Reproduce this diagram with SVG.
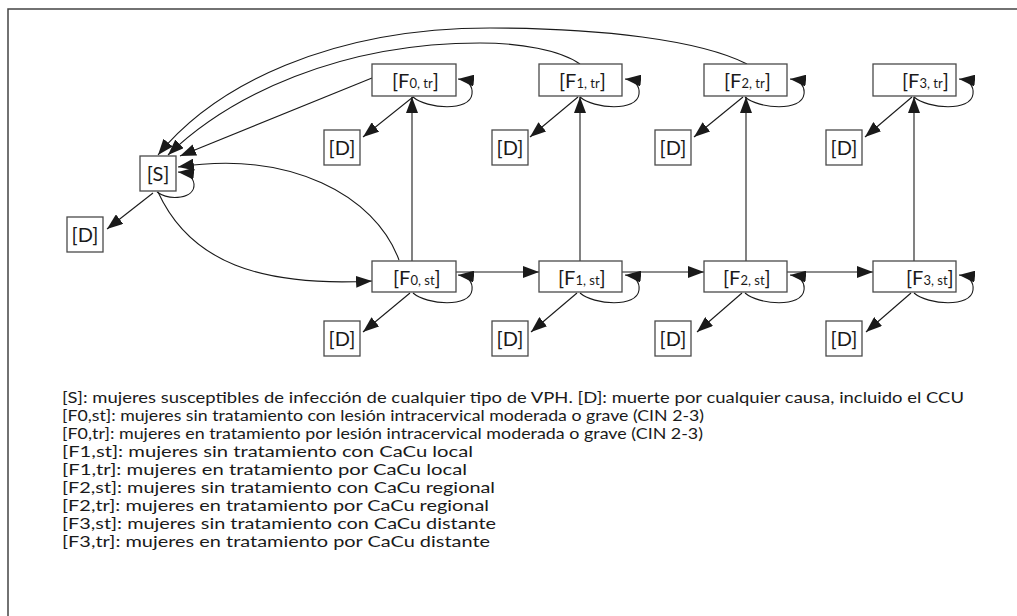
<svg xmlns="http://www.w3.org/2000/svg" width="1017" height="616" viewBox="0 0 1017 616">
  <style>
    .box { fill: #ffffff; stroke: #4a4a4a; stroke-width: 1.3; }
    .lbl { font-family: "Lato", "Liberation Sans", sans-serif; fill: #1a1a1a; }
    .big { font-size: 20px; }
    .sm { font-size: 13px; }
    .edge { fill: none; stroke: #1a1a1a; stroke-width: 1.1; marker-end: url(#ah); }
    .legend { font-family: "Lato", "Liberation Sans", sans-serif; font-size: 16px; fill: #1a1a1a; }
    .frame { stroke: #444; stroke-width: 1.5; fill: none; }
  </style>
  <defs>
    <marker id="ah" viewBox="0 0 16 12" refX="16" refY="6" markerWidth="16" markerHeight="12" markerUnits="userSpaceOnUse" orient="auto">
      <path d="M0,0 L16,6 L0,12 z" fill="#1a1a1a"/>
    </marker>
  </defs>
  <rect width="1017" height="616" fill="#ffffff"/>
  <path class="frame" d="M8,616 L8,9 L1017,9"/>

  <!-- connectors -->
  <g id="connectors">
    <!-- from S -->
    <path class="edge" d="M153,193 L107,229"/>
    <path class="edge" d="M157,192 C170,201 195,199 194,184 C193,177 188,173 178,172"/>
    <path class="edge" d="M158,192 C190,262 260,287 372,281"/>
    <!-- back to S -->
    <path class="edge" d="M399,260 C375,195 290,150 178,167"/>
    <path class="edge" d="M372,78 L180,156"/>
    <path class="edge" d="M580,64 C560,50 520,43 480,43 C340,43 230,95 168,155"/>
    <path class="edge" d="M747,64 C700,40 600,28 490,28 C330,28 215,85 158,155"/>
    <!-- st to tr -->
    <path class="edge" d="M412,261 L412,97"/>
    <path class="edge" d="M580,261 L580,97"/>
    <path class="edge" d="M746,261 L746,97"/>
    <path class="edge" d="M914,261 L914,97"/>
    <!-- st progression -->
    <path class="edge" d="M456,272 L539,272"/>
    <path class="edge" d="M622,272 L704,272"/>
    <path class="edge" d="M787,272 L873,272"/>
    <!-- deaths, tr row -->
    <path class="edge" d="M413,97 L363,137"/>
    <path class="edge" d="M578,97 L530,137"/>
    <path class="edge" d="M743,97 L694,137"/>
    <path class="edge" d="M912,97 L865,137"/>
    <!-- deaths, st row -->
    <path class="edge" d="M410,293 L363,332"/>
    <path class="edge" d="M577,293 L531,332"/>
    <path class="edge" d="M742,293 L697,332"/>
    <path class="edge" d="M911,293 L866,332"/>
    <!-- self loops, tr row -->
    <path class="edge" d="M413,97 C427,109 470,112 472,94 C473,86 468,80 458,79"/>
    <path class="edge" d="M580,97 C594,109 637,112 639,94 C640,86 635,80 625,79"/>
    <path class="edge" d="M745,97 C759,109 802,112 804,94 C805,86 800,80 790,79"/>
    <path class="edge" d="M914,97 C928,109 971,112 973,94 C974,86 969,80 959,79"/>
    <!-- self loops, st row -->
    <path class="edge" d="M413,293 C427,305 470,308 472,290 C473,282 468,276 458,275"/>
    <path class="edge" d="M580,293 C594,305 637,308 639,290 C640,282 635,276 625,275"/>
    <path class="edge" d="M745,293 C759,305 802,308 804,290 C805,282 800,276 790,275"/>
    <path class="edge" d="M914,293 C928,305 971,308 973,290 C974,282 969,276 959,275"/>
  </g>

  <!-- states -->
  <g id="S">
    <rect class="box" x="140" y="156" width="36" height="35"/>
    <text class="lbl big" x="158" y="181" text-anchor="middle">[S]</text>
  </g>
  <g id="D-S">
    <rect class="box" x="67" y="217" width="36" height="35"/>
    <text class="lbl big" x="85" y="242" text-anchor="middle">[D]</text>
  </g>

  <g id="F0-tr">
    <rect class="box" x="372" y="64" width="84" height="32"/>
    <text class="lbl" x="392" y="88"><tspan class="big">[F</tspan><tspan class="sm">0, tr</tspan><tspan class="big">]</tspan></text>
  </g>
  <g id="F1-tr">
    <rect class="box" x="539" y="64" width="83" height="32"/>
    <text class="lbl" x="559" y="88"><tspan class="big">[F</tspan><tspan class="sm">1, tr</tspan><tspan class="big">]</tspan></text>
  </g>
  <g id="F2-tr">
    <rect class="box" x="704" y="64" width="83" height="32"/>
    <text class="lbl" x="724" y="88"><tspan class="big">[F</tspan><tspan class="sm">2, tr</tspan><tspan class="big">]</tspan></text>
  </g>
  <g id="F3-tr">
    <rect class="box" x="873" y="64" width="83" height="32"/>
    <text class="lbl" x="902" y="88"><tspan class="big">[F</tspan><tspan class="sm">3, tr</tspan><tspan class="big">]</tspan></text>
  </g>

  <g id="F0-st">
    <rect class="box" x="372" y="261" width="84" height="31"/>
    <text class="lbl" x="393" y="285"><tspan class="big">[F</tspan><tspan class="sm">0, st</tspan><tspan class="big">]</tspan></text>
  </g>
  <g id="F1-st">
    <rect class="box" x="539" y="261" width="83" height="31"/>
    <text class="lbl" x="558" y="285"><tspan class="big">[F</tspan><tspan class="sm">1, st</tspan><tspan class="big">]</tspan></text>
  </g>
  <g id="F2-st">
    <rect class="box" x="704" y="261" width="83" height="31"/>
    <text class="lbl" x="723" y="285"><tspan class="big">[F</tspan><tspan class="sm">2, st</tspan><tspan class="big">]</tspan></text>
  </g>
  <g id="F3-st">
    <rect class="box" x="873" y="261" width="83" height="31"/>
    <text class="lbl" x="906" y="285"><tspan class="big">[F</tspan><tspan class="sm">3, st</tspan><tspan class="big">]</tspan></text>
  </g>

  <g id="D-tr0"><rect class="box" x="324" y="130" width="36" height="35"/><text class="lbl big" x="342" y="155" text-anchor="middle">[D]</text></g>
  <g id="D-tr1"><rect class="box" x="492" y="130" width="36" height="35"/><text class="lbl big" x="510" y="155" text-anchor="middle">[D]</text></g>
  <g id="D-tr2"><rect class="box" x="655" y="130" width="36" height="35"/><text class="lbl big" x="673" y="155" text-anchor="middle">[D]</text></g>
  <g id="D-tr3"><rect class="box" x="826" y="130" width="36" height="35"/><text class="lbl big" x="844" y="155" text-anchor="middle">[D]</text></g>
  <g id="D-st0"><rect class="box" x="324" y="321" width="36" height="35"/><text class="lbl big" x="342" y="346" text-anchor="middle">[D]</text></g>
  <g id="D-st1"><rect class="box" x="492" y="321" width="36" height="35"/><text class="lbl big" x="510" y="346" text-anchor="middle">[D]</text></g>
  <g id="D-st2"><rect class="box" x="655" y="321" width="36" height="35"/><text class="lbl big" x="673" y="346" text-anchor="middle">[D]</text></g>
  <g id="D-st3"><rect class="box" x="826" y="321" width="36" height="35"/><text class="lbl big" x="844" y="346" text-anchor="middle">[D]</text></g>

  <!-- key -->
  <g id="legend" class="legend">
    <text x="62" y="403" textLength="902" lengthAdjust="spacingAndGlyphs">[S]: mujeres susceptibles de infección de cualquier tipo de VPH. [D]: muerte por cualquier causa, incluido el CCU</text>
    <text x="62" y="421" textLength="642" lengthAdjust="spacingAndGlyphs">[F0,st]: mujeres sin tratamiento con lesión intracervical moderada o grave (CIN 2-3)</text>
    <text x="62" y="439" textLength="641" lengthAdjust="spacingAndGlyphs">[F0,tr]: mujeres en tratamiento por lesión intracervical moderada o grave (CIN 2-3)</text>
    <text x="62" y="457" textLength="411" lengthAdjust="spacingAndGlyphs">[F1,st]: mujeres sin tratamiento con CaCu local</text>
    <text x="62" y="475" textLength="405" lengthAdjust="spacingAndGlyphs">[F1,tr]: mujeres en tratamiento por CaCu local</text>
    <text x="62" y="493" textLength="433" lengthAdjust="spacingAndGlyphs">[F2,st]: mujeres sin tratamiento con CaCu regional</text>
    <text x="62" y="511" textLength="427" lengthAdjust="spacingAndGlyphs">[F2,tr]: mujeres en tratamiento por CaCu regional</text>
    <text x="62" y="529" textLength="434" lengthAdjust="spacingAndGlyphs">[F3,st]: mujeres sin tratamiento con CaCu distante</text>
    <text x="62" y="547" textLength="428" lengthAdjust="spacingAndGlyphs">[F3,tr]: mujeres en tratamiento por CaCu distante</text>
  </g>
</svg>
